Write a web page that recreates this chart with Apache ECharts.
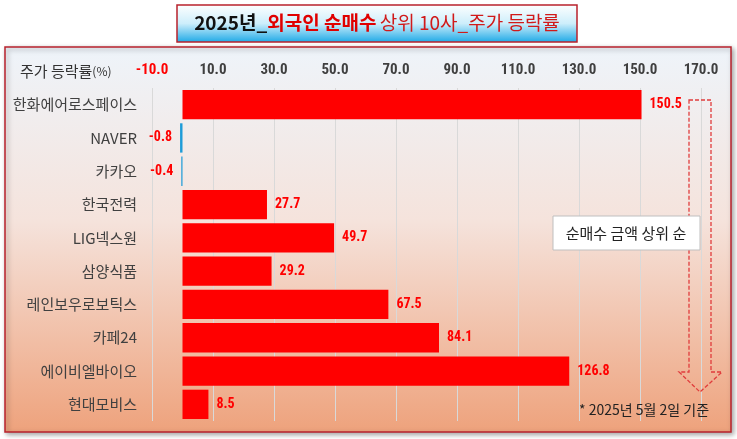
<!DOCTYPE html>
<html>
<head>
<meta charset="utf-8">
<script src="https://cdn.jsdelivr.net/npm/echarts@6.0.0/dist/echarts.min.js"></script>
<style>
	html, body {margin: 0; padding: 0; background: #fff}
	#main-chart {width: 737px; height: 439px}
</style>
</head>
<body>
<div id="main-chart"></div>
<script>
/* data */
const companies = ['한화에어로스페이스', 'NAVER', '카카오', '한국전력', 'LIG넥스원', '삼양식품', '레인보우로보틱스', '카페24', '에이비엘바이오', '현대모비스']
const changeRate = [150.5, -0.8, -0.4, 27.7, 49.7, 29.2, 67.5, 84.1, 126.8, 8.5]
const axisMin = -10
const axisMax = 170
const axisStep = 20

const KR = '"Noto Sans CJK KR", "Noto Sans", sans-serif'
const NARROW = '"Liberation Sans Narrow", "Roboto Condensed", "Liberation Sans", Arial, sans-serif'

const barData = changeRate.map(v => {
	return {
		value: v,
		itemStyle: {color: v < 0 ? '#1e9cd8' : '#ff0000'},
		label: {position: v < 0 ? 'left' : 'right'}
	}
})

const chart = echarts.init(document.getElementById('main-chart'))

chart.setOption({
	animation: false,
	grid: {
		left: 152,
		right: 36,
		top: 88,
		bottom: 18
	},
	xAxis: {
		type: 'value',
		position: 'top',
		min: axisMin,
		max: axisMax,
		interval: axisStep,
		axisLine: {show: false},
		axisTick: {show: false},
		splitLine: {lineStyle: {color: '#d9d9d9', width: 1}},
		axisLabel: {
			margin: 10,
			fontFamily: NARROW,
			fontWeight: 'bold',
			fontSize: 15,
			formatter: v => '{' + (v < 0 ? 'neg' : 'pos') + '|' + v.toFixed(1) + '}',
			rich: {
				neg: {color: '#ff0000', fontFamily: NARROW, fontWeight: 'bold', fontSize: 15},
				pos: {color: '#3f3f3f', fontFamily: NARROW, fontWeight: 'bold', fontSize: 15}
			}
		}
	},
	yAxis: {
		type: 'category',
		inverse: true,
		data: companies,
		axisLine: {show: false},
		axisTick: {show: false},
		axisLabel: {
			margin: 15,
			color: '#404040',
			fontFamily: KR,
			fontSize: 15
		}
	},
	series: [
		{
			type: 'bar',
			data: barData,
			barWidth: '88%',
			label: {
				show: true,
				distance: 8,
				color: '#ff0000',
				fontFamily: NARROW,
				fontWeight: 'bold',
				fontSize: 14,
				formatter: p => p.value.toFixed(1)
			}
		}
	],
	graphic: [
		/* chart frame */
		{
			type: 'rect',
			z: -10,
			shape: {x: 5, y: 47, width: 726, height: 385},
			style: {
				fill: new echarts.graphic.LinearGradient(0, 0, 0, 1, [
					{offset: 0, color: '#eef4fa'},
					{offset: 0.45, color: '#f5e3dc'},
					{offset: 1, color: '#eea27c'}
				]),
				stroke: '#b8222c',
				lineWidth: 1.5,
				shadowBlur: 5,
				shadowOffsetX: 2,
				shadowOffsetY: 2,
				shadowColor: 'rgba(0,0,0,0.35)'
			}
		},
		/* title box */
		{
			type: 'rect',
			z: 10,
			shape: {x: 177, y: 5, width: 400, height: 37},
			style: {
				fill: new echarts.graphic.LinearGradient(0, 0, 0, 1, [
					{offset: 0, color: '#ffffff'},
					{offset: 0.5, color: '#cdeefb'},
					{offset: 1, color: '#1aa8e6'}
				]),
				stroke: '#b8222c',
				lineWidth: 1.5
			}
		},
		{
			type: 'text',
			z: 11,
			x: 377,
			y: 23,
			style: {
				text: '{a|2025년_}{b|외국인 순매수} {c|상위 10사_주가 등락률}',
				align: 'center',
				verticalAlign: 'middle',
				rich: {
					a: {fontFamily: KR, fontSize: 19, fontWeight: 'bold', fill: '#111'},
					b: {fontFamily: KR, fontSize: 19, fontWeight: 'bold', fill: '#e00000'},
					c: {fontFamily: KR, fontSize: 19, fill: '#d11a1a'}
				}
			}
		},
		/* axis name */
		{
			type: 'text',
			x: 20,
			y: 71,
			style: {
				text: '{a|주가 등락률}{b|(%)}',
				verticalAlign: 'middle',
				rich: {
					a: {fontFamily: KR, fontSize: 15, fill: '#333'},
					b: {fontFamily: KR, fontSize: 12, fill: '#333'}
				}
			}
		},
		/* order arrow */
		{
			type: 'polygon',
			z: 5,
			shape: {
				points: [[689, 100], [711, 100], [711, 372], [722, 372], [700, 392], [679, 372], [689, 372]]
			},
			style: {
				fill: 'none',
				stroke: '#e03c3c',
				lineWidth: 1.3,
				lineDash: [4, 2]
			}
		},
		/* note box */
		{
			type: 'rect',
			z: 6,
			shape: {x: 553, y: 216, width: 147, height: 34},
			style: {fill: '#fff', stroke: '#bfbfbf', lineWidth: 1}
		},
		{
			type: 'text',
			z: 7,
			x: 626,
			y: 233,
			style: {
				text: '순매수 금액 상위 순',
				align: 'center',
				verticalAlign: 'middle',
				fontFamily: KR,
				fontSize: 15,
				fill: '#222'
			}
		},
		{
			type: 'text',
			z: 7,
			x: 579,
			y: 410,
			style: {
				text: '* 2025년 5월 2일 기준',
				verticalAlign: 'middle',
				fontFamily: KR,
				fontSize: 14,
				fill: '#222'
			}
		}
	]
})

window.onresize = () => {
	chart.resize()
}
</script>
</body>
</html>
